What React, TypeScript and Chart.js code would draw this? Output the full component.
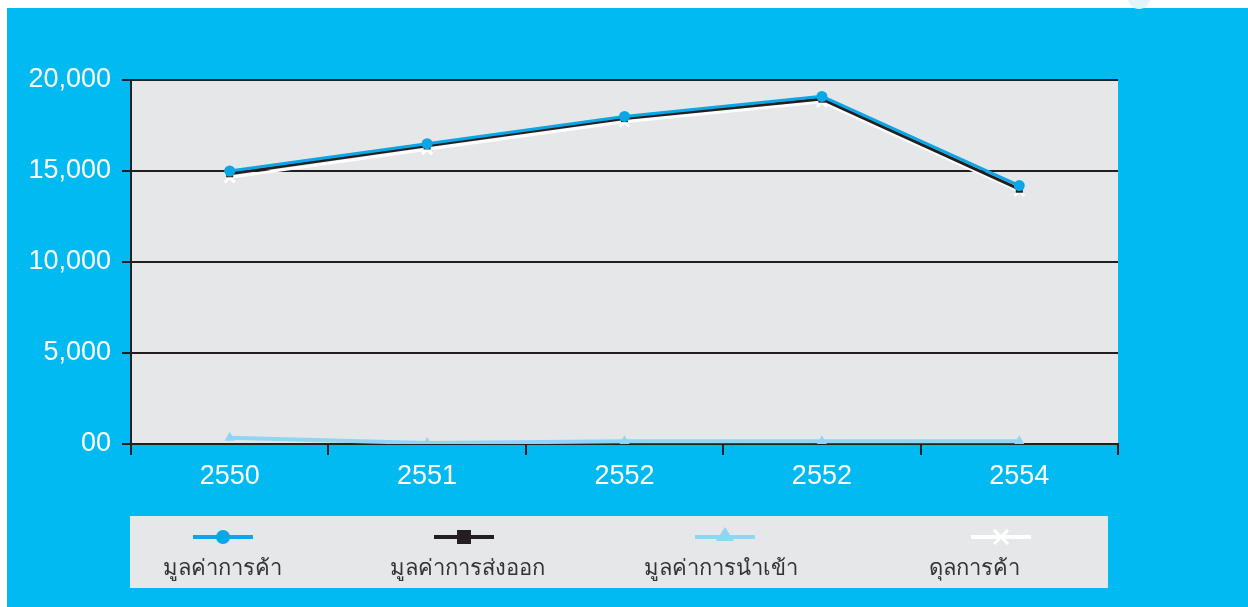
import React, { useEffect, useRef } from "react";
import { Chart, registerables } from "chart.js";

Chart.register(...registerables);

const categories = ["2550", "2551", "2552", "2552", "2554"];
const tradeValue = [15000, 16500, 18000, 19100, 14200];
const exportValue = [14850, 16380, 17880, 18950, 14000];
const importValue = [350, 50, 150, 150, 150];
const tradeBalance = [14650, 16200, 17700, 18800, 13900];
const seriesNames = ["มูลค่าการค้า", "มูลค่าการส่งออก", "มูลค่าการนำเข้า", "ดุลการค้า"];
const yMin = 0;
const yMax = 20000;
const yStep = 5000;

const BLUE_BG = "#02BAF2";
const PLOT_BG = "#E6E7E8";
const DARK = "#231F20";
const C_TRADE = "#0AA6E6";
const C_IMPORT = "#8FD6F4";
const C_BAL = "#FFFFFF";

const W = 1241;
const H = 599;

const legendPlugin = {
  id: "customLegend",
  beforeDraw(chart: any) {
    const { ctx, chartArea } = chart;
    ctx.save();
    ctx.fillStyle = PLOT_BG;
    ctx.fillRect(chartArea.left, chartArea.top, chartArea.right - chartArea.left, chartArea.bottom - chartArea.top);
    ctx.restore();
  },
  afterDraw(chart: any) {
    const { ctx } = chart;
    ctx.save();
    ctx.fillStyle = PLOT_BG;
    ctx.fillRect(123, 508, 978, 72);
    const sampleCenters = [216, 457, 718, 994];
    const textCenters = [215, 460, 714, 967];
    const sy = 529;
    const colors = [C_TRADE, DARK, C_IMPORT, C_BAL];
    chart.data.datasets.forEach((ds: any, i: number) => {
      const cx = sampleCenters[i];
      ctx.strokeStyle = colors[i];
      ctx.lineWidth = 4;
      ctx.beginPath();
      ctx.moveTo(cx - 30, sy);
      ctx.lineTo(cx + 30, sy);
      ctx.stroke();
      ctx.fillStyle = colors[i];
      if (i === 0) {
        ctx.beginPath();
        ctx.arc(cx, sy, 7, 0, Math.PI * 2);
        ctx.fill();
      } else if (i === 1) {
        ctx.fillRect(cx - 7, sy - 7, 14, 14);
      } else if (i === 2) {
        ctx.beginPath();
        ctx.moveTo(cx, sy - 10);
        ctx.lineTo(cx + 9, sy + 4);
        ctx.lineTo(cx - 9, sy + 4);
        ctx.closePath();
        ctx.fill();
      } else {
        ctx.lineWidth = 3;
        ctx.beginPath();
        ctx.moveTo(cx - 7, sy - 7);
        ctx.lineTo(cx + 7, sy + 7);
        ctx.moveTo(cx + 7, sy - 7);
        ctx.lineTo(cx - 7, sy + 7);
        ctx.stroke();
      }
      ctx.fillStyle = "#333335";
      ctx.font = "22px 'Noto Sans', 'DejaVu Sans', sans-serif";
      ctx.textAlign = "center";
      ctx.textBaseline = "alphabetic";
      ctx.fillText(ds.label, textCenters[i], 567);
    });
    ctx.restore();
  },
};

export default function App() {
  const ref = useRef<HTMLCanvasElement>(null);
  useEffect(() => {
    if (!ref.current) return;
    const chart = new Chart(ref.current, {
      type: "line",
      data: {
        labels: categories,
        datasets: [
          {
            label: seriesNames[0],
            data: tradeValue,
            borderColor: C_TRADE,
            backgroundColor: C_TRADE,
            borderWidth: 3,
            pointStyle: "circle",
            pointRadius: 5.5,
            pointBorderWidth: 0,
            tension: 0,
          },
          {
            label: seriesNames[1],
            data: exportValue,
            borderColor: DARK,
            backgroundColor: DARK,
            borderWidth: 3,
            pointStyle: "rect",
            pointRadius: 5,
            pointBorderWidth: 0,
            tension: 0,
          },
          {
            label: seriesNames[2],
            data: importValue,
            borderColor: C_IMPORT,
            backgroundColor: C_IMPORT,
            borderWidth: 4,
            pointStyle: "triangle",
            pointRadius: 6,
            pointBorderWidth: 0,
            tension: 0,
          },
          {
            label: seriesNames[3],
            data: tradeBalance,
            borderColor: C_BAL,
            backgroundColor: C_BAL,
            borderWidth: 3,
            pointStyle: "crossRot",
            pointRadius: 7,
            pointBorderWidth: 3,
            tension: 0,
          },
        ],
      },
      options: {
        responsive: false,
        animation: false,
        layout: { padding: { left: 0, right: 130, top: 72, bottom: 0 } },
        plugins: {
          legend: { display: false },
          tooltip: { enabled: false },
        },
        scales: {
          x: {
            type: "category",
            offset: true,
            grid: {
              offset: true,
              drawOnChartArea: false,
              drawTicks: true,
              color: DARK,
              lineWidth: 2,
              tickLength: 11,
            },
            border: { display: true, color: DARK, width: 2 },
            ticks: {
              color: "#FFFFFF",
              padding: 5,
              font: { family: "'Liberation Sans', Arial, sans-serif", size: 27 },
            },
            afterFit(scale: any) {
              scale.height = 163;
            },
          },
          y: {
            min: yMin,
            max: yMax,
            grid: {
              color: DARK,
              lineWidth: 2,
              tickLength: 9,
              drawTicks: true,
            },
            border: { display: true, color: DARK, width: 2 },
            ticks: {
              stepSize: yStep,
              color: "#FFFFFF",
              padding: 11,
              font: { family: "'Liberation Sans', Arial, sans-serif", size: 27 },
              callback: (v: any) => (Number(v) === 0 ? "00" : Number(v).toLocaleString("en-US")),
            },
            afterFit(scale: any) {
              scale.width = 124;
            },
          },
        },
      },
      plugins: [legendPlugin],
    });
    return () => chart.destroy();
  }, []);

  return (
    <>
      <div
        style={{
          position: "fixed",
          left: 7,
          top: 8,
          width: W,
          height: H,
          background: BLUE_BG,
        }}
      >
        <canvas ref={ref} width={W} height={H} style={{ width: W, height: H, display: "block" }} />
      </div>
      <div
        style={{
          position: "fixed",
          left: 1128,
          top: -13,
          width: 22,
          height: 22,
          borderRadius: "50%",
          background: "#E2F4FC",
        }}
      />
    </>
  );
}
